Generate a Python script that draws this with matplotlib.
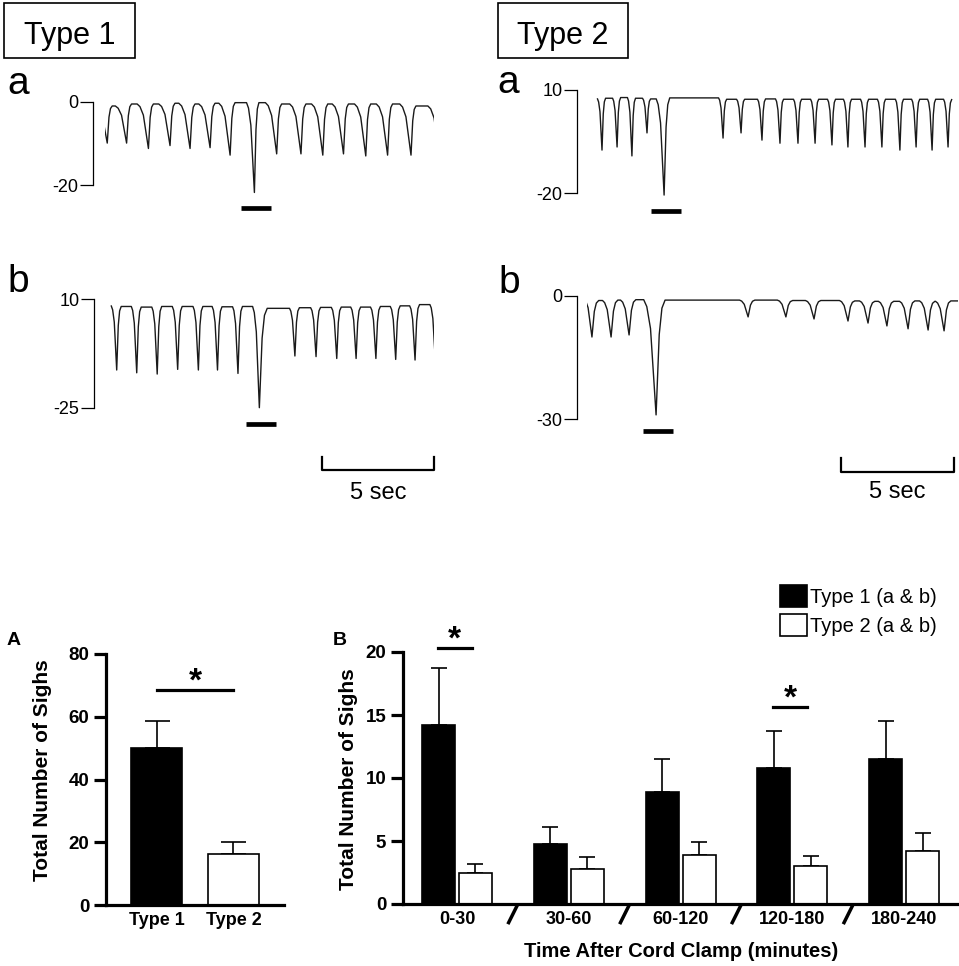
import numpy as np
import matplotlib
matplotlib.use('Agg')
import matplotlib.pyplot as plt
from matplotlib.patches import Rectangle, Patch

plt.rcParams['font.family'] = ['Liberation Sans', 'DejaVu Sans']

W, H = 959, 966

# ---------------- data ----------------
# breath troughs: time (s), value, and plateau level before/after each trough
T1A_T = [0.1, 0.96, 1.93, 2.89, 3.78, 4.67, 5.56, 6.64, 7.63, 8.71, 9.68, 10.6, 11.59, 12.56, 13.6, 14.85]
T1A_V = [-9.9, -9.9, -11.2, -10.5, -11.2, -11.0, -12.8, -21.8, -12.5, -12.5, -12.8, -12.5, -13.0, -12.8, -12.8, -12.5]
T1A_TOP = [-1.0, -0.96, -0.48, -0.48, -0.3, -0.48, -0.3, -0.16, -0.16, -0.48, -0.48, -0.48, -0.48, -0.48, -0.48, -0.96, -1.0]

T1B_T = [0.52, 1.41, 2.32, 3.23, 4.15, 5.0, 5.91, 6.86, 8.44, 9.38, 10.3, 11.16, 12.04, 12.92, 13.78, 14.68]
T1B_V = [-12.8, -13.7, -14.1, -12.6, -12.8, -12.8, -13.9, -24.9, -8.3, -8.5, -9.1, -9.1, -9.1, -9.4, -9.6, -9.6]
T1B_TOP = [7.75, 7.6, 7.4, 7.6, 7.6, 7.6, 7.5, 7.6, 7.0, 7.2, 7.3, 7.4, 7.4, 7.6, 7.8, 8.2, 8.0]

T2A_T = [0.4, 1.07, 1.73, 2.4, 3.16, 5.78, 6.58, 7.51, 8.31, 9.11, 9.87, 10.62, 11.33, 12.09, 12.84, 13.64, 14.36, 15.07, 15.78]
T2A_V = [-7.5, -6.6, -9.2, -2.5, -20.6, -4.0, -2.5, -4.6, -5.5, -5.5, -5.5, -6.0, -6.6, -6.6, -6.6, -7.5, -6.6, -7.5, -6.6]
T2A_TOP = [7.4, 7.6, 7.8, 7.6, 7.4, 7.7, 7.3, 7.3, 7.4, 7.3, 7.3, 7.3, 7.3, 7.3, 7.3, 7.3, 7.3, 7.3, 7.3, 7.2]

T2B_T = [0.22, 1.07, 1.87, 3.07, 7.16, 8.84, 10.09, 11.6, 12.49, 13.33, 14.27, 15.16, 15.87, 16.9]
T2B_V = [-10.0, -10.0, -9.5, -29.0, -5.1, -5.1, -5.6, -6.1, -6.6, -7.3, -8.0, -8.3, -8.5, -8.5]
T2B_TOP = [-0.5, -1.1, -1.0, -0.9, -1.0, -1.0, -1.1, -1.1, -1.2, -1.3, -1.3, -1.2, -1.3, -1.2, -1.2]

SCALE_SEC = 5

A_LABELS = ['Type 1', 'Type 2']
A_MEAN = [50.0, 16.4]
A_SEM = [8.7, 3.6]
A_SIG = (0, 1, 68.5)

B_LABELS = ['0-30', '30-60', '60-120', '120-180', '180-240']
B_T1_MEAN = [14.2, 4.8, 8.9, 10.8, 11.5]
B_T1_SEM = [4.5, 1.3, 2.6, 2.9, 3.0]
B_T2_MEAN = [2.5, 2.8, 3.9, 3.0, 4.2]
B_T2_SEM = [0.7, 0.9, 1.0, 0.8, 1.4]
B_SIG = [(0, 20.3), (3, 15.6)]

# ---------------- helpers ----------------
fig = plt.figure(figsize=(W / 100, H / 100), dpi=100)


def box(x0, x1, y0, y1):
    return [x0 / W, 1 - y1 / H, (x1 - x0) / W, (y1 - y0) / H]


def breath_path(tt, vv, tops, fall, rise, sigh, sfall, srise):
    # each breath: rounded shoulder from the plateau, sharp trough, fast rise, rounded top
    xs, ys = [], []
    for i, (t, v) in enumerate(zip(tt, vv)):
        f, r = (sfall, srise) if i == sigh else (fall, rise)
        a, b = tops[i], tops[i + 1]
        xs += [t - f, t - 0.75 * f, t - 0.45 * f, t, t + 0.35 * r, t + 0.65 * r, t + r]
        ys += [a, a + 0.06 * (v - a), a + 0.25 * (v - a), v,
               b + 0.3 * (v - b), b + 0.07 * (v - b), b]
    return xs, ys


def trace_panel(tt, vv, tops, x0, x1, ya, va, yb, vb, lim, offset, fall, rise, sigh, sfall, srise):
    ppu = (yb - ya) / (va - vb)
    lo, hi = lim
    y_top = ya - (hi - va) * ppu
    y_bot = ya + (va - lo) * ppu
    ax = fig.add_axes(box(x0, x1, y_top, y_bot))
    dur = (x1 - x0) / 22.5
    ax.set_xlim(0, dur)
    ax.set_ylim(lo, hi)
    for s in ['top', 'right', 'bottom']:
        ax.spines[s].set_visible(False)
    ax.spines['left'].set_position(('outward', offset * 0.72))
    ax.spines['left'].set_bounds(vb, va)
    ax.spines['left'].set_linewidth(0.9)
    ax.set_yticks([vb, va], labels=[f'{vb:g}', f'{va:g}'])
    ax.tick_params(axis='y', length=9.5, width=0.9, pad=1, labelsize=13)
    ax.set_xticks([])
    ax.patch.set_alpha(0)
    xs, ys = breath_path(tt, vv, tops, fall, rise, sigh, sfall, srise)
    ax.plot(xs, ys, color='#1a1a1a', lw=1.0)
    # sigh marker bar
    st, sv = tt[sigh], vv[sigh]
    ax.plot([st - 0.58, st + 0.75], [sv - 16 / ppu] * 2, color='black', lw=3.4,
            solid_capstyle='butt', clip_on=False)
    px2v = lambda y: va - (y - ya) / ppu
    return ax, dur, px2v


# ---------------- traces ----------------
ax1a, d1a, p1a = trace_panel(T1A_T, T1A_V, T1A_TOP, 105, 434, 102, 0, 185, -20, (-24, 2), 12,
                             0.5, 0.22, 7, 0.35, 0.2)
ax1b, d1b, p1b = trace_panel(T1B_T, T1B_V, T1B_TOP, 105, 434, 299, 10, 408, -25, (-27, 12), 11,
                             0.24, 0.2, 7, 0.3, 0.35)
ax2a, d2a, p2a = trace_panel(T2A_T, T2A_V, T2A_TOP, 593, 958, 90, 10, 193, -20, (-22, 12), 16,
                             0.2, 0.16, 4, 0.35, 0.25)
ax2b, d2b, p2b = trace_panel(T2B_T, T2B_V, T2B_TOP, 587, 958, 296, 0, 419, -30, (-31, 2), 10,
                             0.38, 0.3, 3, 0.55, 0.4)

# 5 sec scale brackets
for ax, end, p2v, ytop, ybot, ytxt in [(ax1b, d1b, p1b, 457, 470, 499),
                                       (ax2b, d2b - 0.18, p2b, 458, 472, 498)]:
    ax.plot([end - SCALE_SEC, end - SCALE_SEC, end, end],
            [p2v(ytop), p2v(ybot), p2v(ybot), p2v(ytop)],
            color='black', lw=1.6, clip_on=False)
    ax.text(end - SCALE_SEC / 2, p2v(ytxt), f'{SCALE_SEC} sec', ha='center', va='baseline',
            fontsize=17)

# Type boxes and letters
for (bx0, bx1, label) in [(4, 135, 'Type 1'), (498, 628, 'Type 2')]:
    fig.add_artist(Rectangle((bx0 / W, 1 - 58 / H), (bx1 - bx0) / W, 55 / H,
                             transform=fig.transFigure, fill=False, lw=1.2, ec='black'))
    fig.text((bx0 + bx1) / 2 / W, 1 - 44 / H, label, ha='center', va='baseline', fontsize=22)

for (lx, ly, s) in [(7, 94, 'a'), (7, 292, 'b'), (497, 93, 'a'), (498, 293, 'b')]:
    fig.text(lx / W, 1 - ly / H, s, ha='left', va='baseline', fontsize=28)


# ---------------- bar charts ----------------
def style_bar_axes(ax):
    for s in ['top', 'right']:
        ax.spines[s].set_visible(False)
    for s in ['left', 'bottom']:
        ax.spines[s].set_linewidth(2.3)
    ax.tick_params(axis='y', length=9, width=2.3, pad=3, labelsize=13.5)
    ax.tick_params(axis='x', length=0, pad=5, labelsize=13)
    for lab in ax.get_xticklabels() + ax.get_yticklabels():
        lab.set_fontweight('bold')


# Panel A
axA = fig.add_axes(box(106, 284, 654, 905))
xa = np.arange(len(A_LABELS))
axA.bar(xa, A_MEAN, width=0.66, color=['black', 'white'], edgecolor='black', linewidth=1.2, zorder=2)
axA.errorbar(xa, A_MEAN, yerr=[np.zeros(len(xa)), A_SEM], fmt='none', ecolor='black',
             elinewidth=1.2, capsize=9, capthick=1.2, zorder=1)
axA.set_xlim(-0.656, 1.656)
axA.set_ylim(0, 80)
axA.set_yticks([0, 20, 40, 60, 80])
axA.set_xticks(xa, labels=A_LABELS)
style_bar_axes(axA)
axA.plot([A_SIG[0], A_SIG[1]], [A_SIG[2]] * 2, color='black', lw=2.3, clip_on=False)
axA.annotate('*', xy=((A_SIG[0] + A_SIG[1]) / 2, A_SIG[2]), xytext=(0, 0), textcoords='offset points',
             ha='center', va='baseline', fontsize=24, fontweight='bold', annotation_clip=False)
fig.text(43 / W, 1 - 770 / H, 'Total Number of Sighs', rotation=90, ha='center', va='center',
         fontsize=15, fontweight='bold')
fig.text(7 / W, 1 - 645 / H, 'A', fontsize=14, fontweight='bold', ha='left', va='baseline')

# Panel B
axB = fig.add_axes(box(403, 959, 652, 904))
xb = np.arange(len(B_LABELS))
bw = 0.295
axB.bar(xb - 0.165, B_T1_MEAN, width=bw, color='black', edgecolor='black', linewidth=1.2, zorder=2)
axB.bar(xb + 0.165, B_T2_MEAN, width=bw, color='white', edgecolor='black', linewidth=1.2, zorder=2)
axB.errorbar(xb - 0.165, B_T1_MEAN, yerr=[np.zeros(len(xb)), B_T1_SEM], fmt='none', ecolor='black',
             elinewidth=1.2, capsize=6, capthick=1.2, zorder=1)
axB.errorbar(xb + 0.165, B_T2_MEAN, yerr=[np.zeros(len(xb)), B_T2_SEM], fmt='none', ecolor='black',
             elinewidth=1.2, capsize=6, capthick=1.2, zorder=1)
axB.set_xlim(-0.483, 4.49)
axB.set_ylim(0, 20)
axB.set_yticks([0, 5, 10, 15, 20])
axB.set_xticks(xb, labels=B_LABELS)
style_bar_axes(axB)
for k in xb[:-1] + 0.5:
    axB.plot([k - 0.045, k + 0.045], [-0.08, 0.0], transform=axB.get_xaxis_transform(),
             color='black', lw=2.5, clip_on=False, solid_capstyle='butt')
for g, yv in B_SIG:
    axB.plot([g - 0.17, g + 0.13], [yv, yv], color='black', lw=2.3, clip_on=False)
    axB.annotate('*', xy=(g - 0.02, yv), xytext=(0, 0), textcoords='offset points',
                 ha='center', va='baseline', fontsize=24, fontweight='bold', annotation_clip=False)
axB.set_xlabel('Time After Cord Clamp (minutes)', fontsize=14.5, fontweight='bold', labelpad=10)
fig.text(349 / W, 1 - 779 / H, 'Total Number of Sighs', rotation=90, ha='center', va='center',
         fontsize=15, fontweight='bold')
fig.text(333 / W, 1 - 645 / H, 'B', fontsize=14, fontweight='bold', ha='left', va='baseline')

axB.legend(handles=[Patch(facecolor='black', edgecolor='black', lw=1.2),
                    Patch(facecolor='white', edgecolor='black', lw=1.2)],
           labels=['Type 1 (a & b)', 'Type 2 (a & b)'],
           loc='upper left', bbox_to_anchor=(780 / W, 1 - 585 / H), bbox_transform=fig.transFigure,
           frameon=False, fontsize=14.5, handlelength=1.35, handleheight=1.3, handletextpad=0.15,
           labelspacing=0.35, borderpad=0, borderaxespad=0)

fig.savefig('out.png', dpi=100)
